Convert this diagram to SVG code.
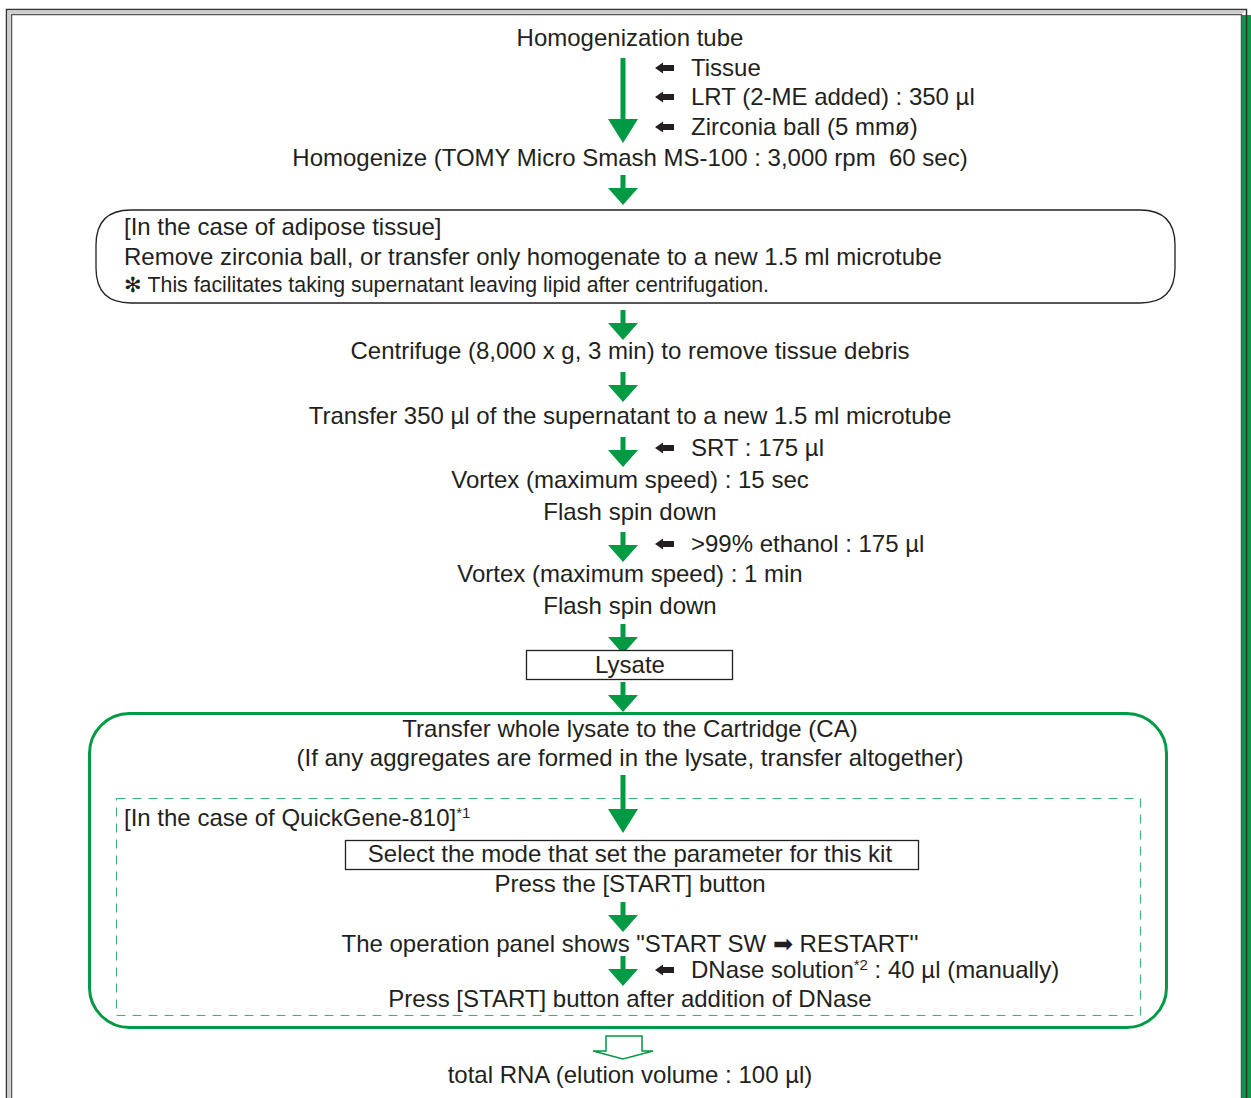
<svg xmlns="http://www.w3.org/2000/svg" width="1251" height="1098" viewBox="0 0 1251 1098">
<defs>
<style>
text{font-family:"Liberation Sans",Arial,sans-serif;font-size:24px;fill:#231f20}
.c{text-anchor:middle}
.sm{font-size:21.3px}
.sup{font-size:15px}
.fl{fill:#009944;stroke:none}
.blk{fill:#231f20;stroke:none}
.box{fill:#fff;stroke:#231f20;stroke-width:1.3}
</style>
<g id="sa"><rect x="-2.5" y="0" width="5" height="14" class="fl"/><polygon points="-15,13 15,13 0,30" class="fl"/></g>
<g id="ba"><polygon points="0,0 8,-5.5 8,-3 19,-3 19,3 8,3 8,5.5" class="blk"/></g>
</defs>
<rect width="1251" height="1098" fill="#fff"/>
<g id="frame" fill="none">
<rect x="1242" y="15" width="9" height="1083" fill="#0a9a4a"/>
<polyline points="6.5,1098 6.5,9.5 1246.5,9.5 1246.5,1098" stroke="#333" stroke-width="1.5"/>
<polyline points="9,1098 9,12 1244,12" stroke="#ccc" stroke-width="2"/>
<polyline points="11.5,1098 11.5,14.5 1241.5,14.5 1241.5,1098" stroke="#555" stroke-width="1.5"/>
</g>
<g id="connectors">
<rect x="620.5" y="58" width="5" height="64" class="fl"/>
<polygon points="608,119 638,119 623,143" class="fl"/>
<use href="#sa" x="623" y="175"/>
<use href="#sa" x="623" y="310"/>
<use href="#sa" x="623" y="372"/>
<use href="#sa" x="623" y="437"/>
<use href="#sa" x="623" y="532"/>
<use href="#sa" x="623" y="624"/>
<use href="#sa" x="623" y="682"/>
<rect x="620.5" y="775" width="5" height="36" class="fl"/>
<polygon points="608,809 638,809 623,833" class="fl"/>
<use href="#sa" x="623" y="902"/>
<use href="#sa" x="623" y="956"/>
<polygon points="606,1036 642,1036 642,1051 653,1051 623,1059 593,1051 606,1051" fill="#fff" stroke="#009944" stroke-width="1.5"/>
<use href="#ba" x="655" y="68"/>
<use href="#ba" x="655" y="97"/>
<use href="#ba" x="655" y="127"/>
<use href="#ba" x="655" y="448"/>
<use href="#ba" x="655" y="544"/>
<use href="#ba" x="655" y="970"/>
</g>
<g id="n1"><text x="630" y="46" class="c">Homogenization tube</text></g>
<g id="n2"><text x="691" y="76">Tissue</text><text x="691" y="105">LRT (2-ME added) : 350 µl</text><text x="691" y="135">Zirconia ball (5 mmø)</text></g>
<g id="n3"><text x="630" y="166" class="c" xml:space="preserve">Homogenize (TOMY Micro Smash MS-100 : 3,000 rpm  60 sec)</text></g>
<g id="n4">
<path d="M131,210 H1140 Q1175,210 1175,245 V268 Q1175,303 1140,303 H131 Q96,303 96,268 V245 Q96,210 131,210 Z" fill="#fff" stroke="#231f20" stroke-width="1.3"/>
<text x="124" y="235">[In the case of adipose tissue]</text>
<text x="124" y="265">Remove zirconia ball, or transfer only homogenate to a new 1.5 ml microtube</text>
<text x="124" y="292" class="sm">✻ This facilitates taking supernatant leaving lipid after centrifugation.</text>
</g>
<g id="n5"><text x="630" y="359" class="c">Centrifuge (8,000 x g, 3 min) to remove tissue debris</text></g>
<g id="n6"><text x="630" y="424" class="c">Transfer 350 µl of the supernatant to a new 1.5 ml microtube</text></g>
<g id="n7"><text x="691" y="456">SRT : 175 µl</text></g>
<g id="n8"><text x="630" y="488" class="c">Vortex (maximum speed) : 15 sec</text><text x="630" y="520" class="c">Flash spin down</text></g>
<g id="n9"><text x="691" y="552">&gt;99% ethanol : 175 µl</text></g>
<g id="n10"><text x="630" y="582" class="c">Vortex (maximum speed) : 1 min</text><text x="630" y="614" class="c">Flash spin down</text></g>
<g id="n11"><rect x="526.5" y="650.5" width="206" height="29" class="box"/><text x="630" y="673" class="c">Lysate</text></g>
<g id="n12">
<rect x="89.5" y="713.5" width="1077" height="314" rx="40" fill="none" stroke="#009944" stroke-width="3"/>
<text x="630" y="737" class="c">Transfer whole lysate to the Cartridge (CA)</text>
<text x="630" y="766" class="c">(If any aggregates are formed in the lysate, transfer altogether)</text>
</g>
<g id="n13">
<rect x="116.5" y="798.5" width="1024" height="217" fill="none" stroke="#3db36b" stroke-width="1.2" stroke-dasharray="9,7"/>
<text x="124" y="826">[In the case of QuickGene-810]<tspan class="sup" dy="-8">*1</tspan></text>
</g>
<g id="n14"><rect x="345.5" y="840.5" width="573" height="29" class="box"/><text x="630" y="862" class="c">Select the mode that set the parameter for this kit</text></g>
<g id="n15"><text x="630" y="892" class="c">Press the [START] button</text></g>
<g id="n16"><text x="630" y="952" class="c">The operation panel shows "START SW ➡ RESTART''</text></g>
<g id="n17"><text x="691" y="978">DNase solution<tspan class="sup" dy="-8">*2</tspan><tspan dy="8"> : 40 µl (manually)</tspan></text></g>
<g id="n18"><text x="630" y="1007" class="c">Press [START] button after addition of DNase</text></g>
<g id="n19"><text x="630" y="1083" class="c">total RNA (elution volume : 100 µl)</text></g>
</svg>
